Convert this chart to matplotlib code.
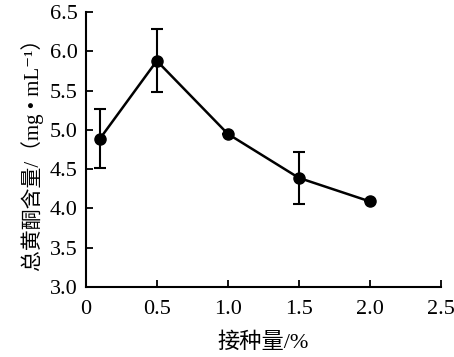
import numpy as np
import matplotlib.pyplot as plt

plt.rcParams['font.family'] = ['Liberation Serif', 'Noto Sans CJK SC', 'DejaVu Serif']

inoculum = [0.1, 0.5, 1.0, 1.5, 2.0]
flavone = [4.89, 5.88, 4.95, 4.39, 4.09]
err = [0.38, 0.40, 0.0, 0.33, 0.0]

fig = plt.figure(figsize=(4.54, 3.57), dpi=100)
ax = fig.add_axes([0.189, 0.196, 0.782, 0.770])

ax.errorbar(inoculum, flavone, yerr=err, color='black', lw=1.8,
            marker='o', markersize=8, capsize=4, elinewidth=1.5, capthick=1.5)

ax.set_xlim(0, 2.5)
ax.set_ylim(3.0, 6.5)
ax.set_xticks(np.arange(0, 2.51, 0.5))
ax.set_xticklabels(['0', '0.5', '1.0', '1.5', '2.0', '2.5'])
ax.set_yticks(np.arange(3.0, 6.51, 0.5))
ax.set_yticklabels(['%.1f' % v for v in np.arange(3.0, 6.51, 0.5)])
ax.tick_params(direction='in', length=5, width=1.3, labelsize=16, pad=6)
ax.tick_params(axis='x', pad=9)

for s in ['top', 'right']:
    ax.spines[s].set_visible(False)
for s in ['left', 'bottom']:
    ax.spines[s].set_linewidth(1.5)

ax.set_xlabel('接种量/%', fontsize=16, labelpad=10)
ax.set_ylabel('总黄酮含量/（mg • mL⁻¹）', fontsize=15, labelpad=4)

fig.savefig('out.png', dpi=100)
